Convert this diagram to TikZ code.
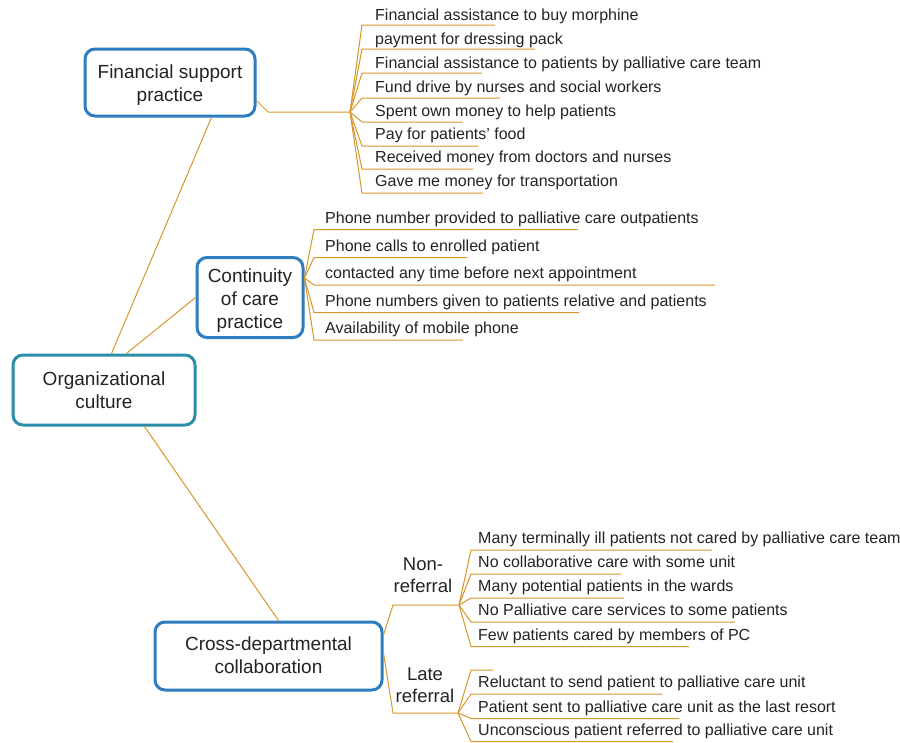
\documentclass[tikz,border=0pt]{standalone}
\usepackage{fontspec}
\setmainfont{Liberation Sans}
\usetikzlibrary{calc}
\definecolor{conn}{RGB}{214,150,40}
\definecolor{boxblue}{RGB}{46,125,192}
\definecolor{boxteal}{RGB}{42,142,168}
\definecolor{txt}{RGB}{35,35,35}
\begin{document}
\begin{tikzpicture}[x=1pt,y=-1pt,
  topic/.style={draw=boxblue, line width=3pt, rounded corners=10pt, fill=white, inner sep=0pt},
  topictext/.style={align=center, font=\fontsize{19}{23}\selectfont, text=txt, inner sep=0pt},
  item/.style={anchor=base west, inner sep=0pt, font=\fontsize{16}{19}\selectfont, text=txt},
  sublabel/.style={align=center, inner sep=0pt, font=\fontsize{18.5}{22}\selectfont, text=txt},
  link/.style={draw=conn, line width=1pt}]
\useasboundingbox (0,0) rectangle (900,742);

% main topics
\node[topic, minimum width=170pt, minimum height=67pt] (fin) at (170,82.5) {};
\node[topictext] (fintext) at ([yshift=-2.5pt]fin.center) {Financial support\\practice};
\node[topic, minimum width=106pt, minimum height=80pt] (cont) at (250,297.5) {};
\node[topictext] (conttext) at ([yshift=-3.5pt]cont.center) {Continuity\\of care\\practice};
\node[topic, draw=boxteal, minimum width=182pt, minimum height=70pt] (org) at (104,390) {};
\node[topictext] (orgtext) at (org.center) {Organizational\\culture};
\node[topic, minimum width=227pt, minimum height=68pt] (cross) at (268.5,656) {};
\node[topictext] (crosstext) at ([yshift=1pt]cross.center) {Cross-departmental\\collaboration};

% links from central topic
\draw[link] ([xshift=100pt]org.north west) -- ([xshift=128pt]fin.south west);
\draw[link] ([xshift=115pt]org.north west) -- (cont.west);
\draw[link] ([xshift=133pt]org.south west) -- ([xshift=125pt]cross.north west);

% financial support hub
\coordinate (finhub) at (350,112);
\draw[link] ([yshift=-18pt]fin.east) -- (268,112) -- (finhub);
\foreach \n/\y/\b/\xe/\t in {
  1/25/20.7/495/Financial assistance to buy morphine,
  2/49/44/535/payment for dressing pack,
  3/73/68.3/482/Financial assistance to patients by palliative care team,
  4/98/92.3/500/Fund drive by nurses and social workers,
  5/122/116/463/Spent own money to help patients,
  6/146/139.3/478/Pay for patients’ food,
  7/169/162.5/473/Received money from doctors and nurses,
  8/193/186.7/483/Gave me money for transportation}{
  \coordinate (f\n s) at (362,\y);
  \coordinate (f\n e) at (\xe,\y);
  \node[item] (f\n) at (375,\b) {\t};
  \draw[link] (finhub) -- (f\n s) -- (f\n e);
}

% continuity hub
\coordinate (conthub) at ([yshift=19.5pt]cont.east);
\foreach \n/\y/\xe/\t in {
  1/229.5/578/Phone number provided to palliative care outpatients,
  2/257.5/467/Phone calls to enrolled patient,
  3/285/715/contacted any time before next appointment,
  4/312.5/579/Phone numbers given to patients relative and patients,
  5/340/463/Availability of mobile phone}{
  \coordinate (c\n s) at (314,\y);
  \coordinate (c\n e) at (\xe,\y);
  \node[item] (c\n) at (325,\y-6.5) {\t};
  \draw[link] (conthub) -- (c\n s) -- (c\n e);
}

% cross-departmental sub-branches
\node[sublabel] (nonref) at (423,575) {Non-\\referral};
\node[sublabel] (lateref) at (425,685) {Late\\referral};
\coordinate (nonhub) at (459,605);
\coordinate (latehub) at (458,713);
\draw[link] ([yshift=21pt]cross.east) -- (393,605) -- (nonhub);
\draw[link] ([yshift=3pt]cross.east) -- (393,713) -- (latehub);

\foreach \n/\y/\xe/\t in {
  1/550/712/Many terminally ill patients not cared by palliative care team,
  2/574/621/No collaborative care with some unit,
  3/598/624/Many potential patients in the wards,
  4/622/735/No Palliative care services to some patients,
  5/646.5/689/Few patients cared by members of PC}{
  \coordinate (n\n s) at (471,\y);
  \coordinate (n\n e) at (\xe,\y);
  \node[item] (n\n) at (478,\y-6.5) {\t};
  \draw[link] (nonhub) -- (n\n s) -- (n\n e);
}

\coordinate (l0s) at (471,670);
\coordinate (l0e) at (493,670);
\draw[link] (latehub) -- (l0s) -- (l0e);
\foreach \n/\y/\xe/\t in {
  1/694/662/Reluctant to send patient to palliative care unit,
  2/718.5/679/Patient sent to palliative care unit as the last resort,
  3/741.5/673/Unconscious patient referred to palliative care unit}{
  \coordinate (l\n s) at (471,\y);
  \coordinate (l\n e) at (\xe,\y);
  \node[item] (l\n) at (478,\y-6.5) {\t};
  \draw[link] (latehub) -- (l\n s) -- (l\n e);
}
\end{tikzpicture}
\end{document}
